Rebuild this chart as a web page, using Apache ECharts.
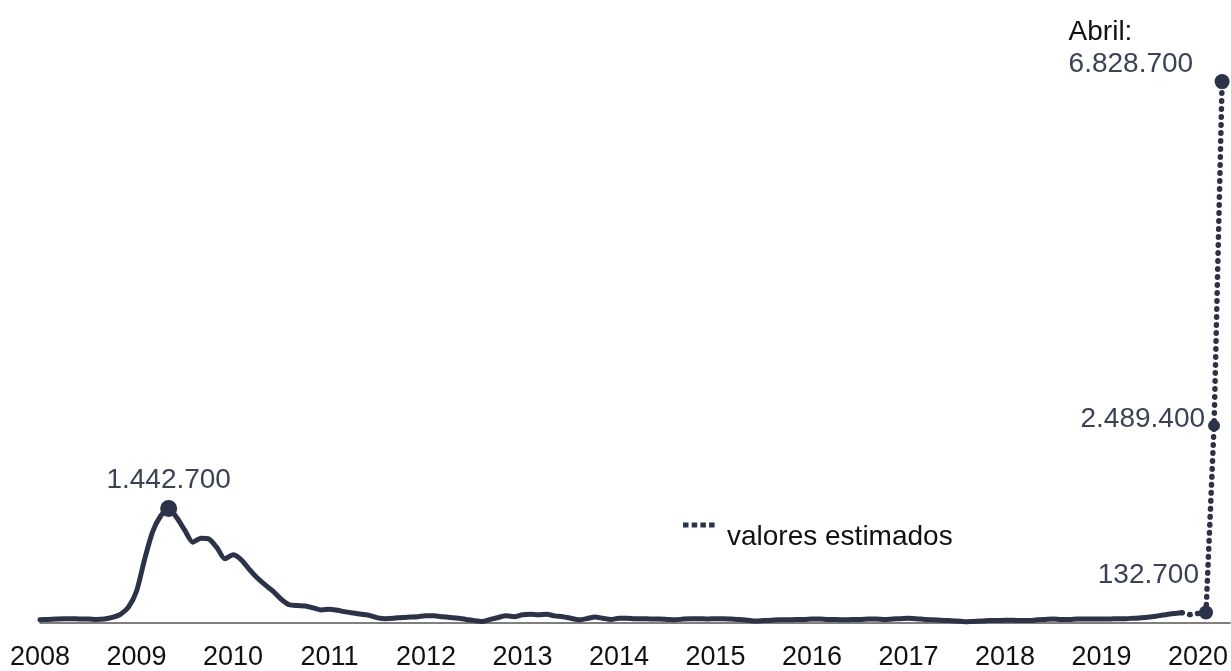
<!DOCTYPE html>
<html><head><meta charset="utf-8">
<script src="https://cdn.jsdelivr.net/npm/echarts@6/dist/echarts.min.js"></script>
<style>html,body{margin:0;padding:0;background:#fff}#c{width:1231px;height:671px}</style>
</head><body><div id="c"></div>
<script>
// Tick labels (one per January)
const yearLabels = ['2008','2009','2010','2011','2012','2013','2014','2015','2016','2017','2018','2019','2020'];
// Reported monthly values, Jan 2008 – Nov 2019
const reported = [
  40000, 45000, 50000, 55000, 55000, 50000, 50000, 45000, 50000, 70000, 110000, 200000,
  400000, 800000, 1150000, 1350000, 1442700, 1330000, 1170000, 1020000, 1070000, 1060000, 950000, 810000,
  860000, 800000, 680000, 570000, 480000, 400000, 300000, 230000, 220000, 215000, 190000, 165000,
  175000, 160000, 140000, 125000, 110000, 95000, 65000, 55000, 60000, 70000, 75000, 80000,
  90000, 90000, 80000, 70000, 60000, 45000, 30000, 20000, 45000, 70000, 90000, 80000,
  105000, 110000, 105000, 110000, 90000, 80000, 60000, 40000, 55000, 75000, 60000, 45000,
  60000, 60000, 55000, 55000, 50000, 50000, 45000, 40000, 50000, 55000, 55000, 50000,
  55000, 55000, 50000, 45000, 35000, 25000, 30000, 35000, 40000, 40000, 45000, 45000,
  50000, 50000, 45000, 45000, 40000, 45000, 45000, 50000, 50000, 45000, 50000, 55000,
  60000, 55000, 45000, 40000, 35000, 30000, 25000, 15000, 20000, 25000, 30000, 30000,
  35000, 35000, 30000, 30000, 40000, 45000, 50000, 45000, 45000, 50000, 50000, 50000,
  50000, 50000, 55000, 55000, 60000, 65000, 75000, 90000, 105000, 120000, 130000
];
// Estimated values, Nov 2019 – Apr 2020
const estimated = [130000, 105000, 120000, 132700, 2489400, 6828700];
const estimatedStart = reported.length - 1;
const lastMonthName = 'Abril:';
const legendText = 'valores estimados';

const FONT = "'Liberation Sans', Arial, sans-serif";
const LINE = '#2c3248';
const VAL = '#3b4256';
const fmt = v => String(v).replace(/\B(?=(\d{3})+(?!\d))/g, '.');

const peakIdx = reported.indexOf(Math.max(...reported));
const reportedData = reported.map((v, i) => i === peakIdx ? {
  value: [i, v], symbol: 'circle', symbolSize: 17,
  label: { show: true, position: 'top', distance: 6, formatter: p => fmt(p.value[1]) }
} : [i, v]);

const n = estimated.length;
const estimatedData = estimated.map((v, k) => {
  const i = estimatedStart + k;
  if (k === n - 1) return {
    value: [i, v], symbol: 'circle', symbolSize: 15,
    label: { show: true, position: [-146, -58], align: 'left', verticalAlign: 'top',
      formatter: p => '{a|' + lastMonthName + '}\n{b|' + fmt(p.value[1]) + '}',
      rich: { a: { fontSize: 28, color: '#111', fontFamily: FONT, lineHeight: 32 },
              b: { fontSize: 28, color: VAL, fontFamily: FONT, lineHeight: 32 } } }
  };
  if (k === n - 2) return {
    value: [i, v], symbol: 'circle', symbolSize: 12,
    label: { show: true, position: 'left', distance: 3, offset: [0, -6], formatter: p => fmt(p.value[1]) }
  };
  if (k === n - 3) return {
    value: [i, v], symbol: 'circle', symbolSize: 14,
    label: { show: true, position: 'left', distance: 0, offset: [0, -37], formatter: p => fmt(p.value[1]) }
  };
  return [i, v];
});

const chart = echarts.init(document.getElementById('c'), null, { renderer: 'canvas' });
chart.setOption({
  animation: false,
  backgroundColor: '#fff',
  grid: { left: 40, right: 0, top: 68, bottom: 45, containLabel: false },
  xAxis: {
    type: 'value', min: 0, max: 148, interval: 12,
    axisLine: { show: true, lineStyle: { color: '#555', width: 1.5 } },
    axisTick: { show: false }, splitLine: { show: false },
    axisLabel: { showMaxLabel: false, margin: 21, fontSize: 27, color: '#111', fontFamily: FONT,
      formatter: v => yearLabels[Math.round(v / 12)] || '' }
  },
  yAxis: { type: 'value', min: 0, max: 7000000, show: false, splitLine: { show: false } },
  series: [
    {
      type: 'line', data: reportedData, symbol: 'none', showSymbol: true, smooth: 0.25,
      lineStyle: { color: LINE, width: 5, join: 'round', cap: 'round' },
      itemStyle: { color: LINE },
      label: { show: false, fontSize: 28, color: VAL, fontFamily: FONT },
      z: 2
    },
    {
      type: 'line', data: estimatedData, symbol: 'none', showSymbol: true,
      lineStyle: { color: LINE, width: 5.5, type: [0.5, 7.5], cap: 'round' },
      itemStyle: { color: LINE },
      label: { show: false, fontSize: 28, color: VAL, fontFamily: FONT },
      z: 3
    }
  ],
  graphic: [
    { type: 'line', shape: { x1: 683, y1: 525, x2: 715, y2: 525 },
      style: { stroke: LINE, lineWidth: 5, lineDash: [5.5, 3.2] } },
    { type: 'text', x: 727, y: 537,
      style: { text: legendText, font: '28px ' + FONT, fill: '#111', verticalAlign: 'middle', align: 'left' } }
  ]
});
</script>
</body></html>
